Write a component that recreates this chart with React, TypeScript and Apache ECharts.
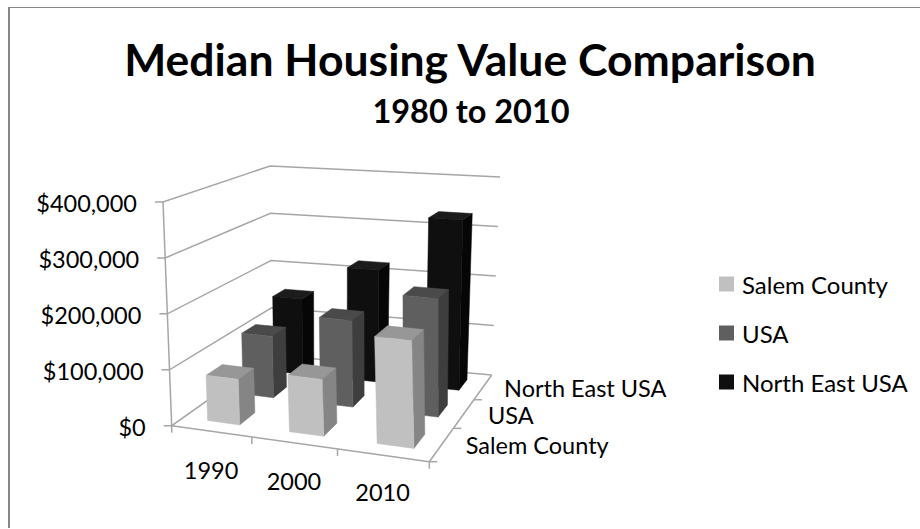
import React, { useEffect, useRef } from "react";
import * as echarts from "echarts";

const titleText = "Median Housing Value Comparison";
const subtitleText = "1980 to 2010";
const years = ["1990", "2000", "2010"];
const rows = ["Salem County", "USA", "North East USA"];
const salem = [82000, 100000, 186000];
const usa = [117000, 162000, 218000];
const northEast = [152000, 222000, 332000];
const yTicks = [0, 100000, 200000, 300000, 400000];

const FONT = "Lato, Carlito, sans-serif";
const cF = { L0: [171.7, 425.7], R0: [429.3, 461.7], L1: [163, 202], R1: [423, 224] };
const cB = { L0: [272, 355], R0: [491.7, 375], L1: [270, 166], R1: [500, 177] };

const warp = (t: number, a: number) => (a * t) / (1 + (a - 1) * t);
const mix = (a: number[], b: number[], t: number) => [a[0] + (b[0] - a[0]) * t, a[1] + (b[1] - a[1]) * t];
function project(u: number, v: number, h: number): number[] {
  const U = warp(u, 0.903);
  const V = warp(v, 1.25);
  const bottom = mix(mix(cF.L0, cF.R0, U), mix(cB.L0, cB.R0, U), V);
  const top = mix(mix(cF.L1, cF.R1, U), mix(cB.L1, cB.R1, U), V);
  return mix(bottom, top, h);
}
const heightOf = (api: any, params: any, val: number) => {
  const cs = params.coordSys;
  return (cs.y + cs.height - api.coord([0, val])[1]) / cs.height;
};
const money = (v: number) => "$" + v.toLocaleString("en-US");

function barSeries(name: string, values: number[], row: number, faces: string[], z: number) {
  return {
    type: "custom",
    name,
    z,
    coordinateSystem: "cartesian2d",
    itemStyle: { color: faces[0] },
    data: values.map((v, i) => [i, v]),
    silent: true,
    renderItem: (params: any, api: any) => {
      const cat = api.value(0);
      const h = heightOf(api, params, api.value(1));
      const u0 = (cat * 1.0175 + 0.313) / 3, u1 = (cat * 1.0175 + 0.72) / 3;
      const v0 = (row + 0.29) / 3, v1 = (row + 0.72) / 3;
      const poly = (pts: number[][], fill: string) => ({
        type: "polygon",
        shape: { points: pts },
        style: { fill, stroke: fill, lineWidth: 0.5 },
      });
      return {
        type: "group",
        children: [
          poly([project(u1, v0, 0), project(u1, v1, 0), project(u1, v1, h), project(u1, v0, h)], faces[1]),
          poly([project(u0, v0, h), project(u1, v0, h), project(u1, v1, h), project(u0, v1, h)], faces[2]),
          poly([project(u0, v0, 0), project(u1, v0, 0), project(u1, v0, h), project(u0, v0, h)], faces[0]),
        ],
      };
    },
  };
}

const LINE = { stroke: "#a6a6a6", lineWidth: 1.5, fill: "none" };

const App = () => {
  const ref = useRef<HTMLDivElement>(null);
  useEffect(() => {
    document.body.style.margin = "0";
    const chart = echarts.init(ref.current!, null, { renderer: "svg" });
    chart.setOption({
      animation: false,
      backgroundColor: "#fff",
      graphic: [
        { type: "line", z: -10, shape: { x1: 8, y1: 7.5, x2: 920, y2: 7.5 }, style: { stroke: "#868686", lineWidth: 1 } },
        { type: "line", z: -10, shape: { x1: 9, y1: 7, x2: 9, y2: 528 }, style: { stroke: "#868686", lineWidth: 2 } },
      ],
      title: [
        { text: titleText, left: 465, top: 31, textAlign: "center", textStyle: { fontFamily: FONT, fontWeight: "bold", fontSize: 44.5, color: "#000" } },
        { text: subtitleText, left: 466, top: 89, textAlign: "center", textStyle: { fontFamily: FONT, fontWeight: "bold", fontSize: 32.5, color: "#000" } },
      ],
      legend: {
        orient: "vertical",
        left: 714,
        top: 267,
        data: rows,
        icon: "rect",
        itemWidth: 15,
        itemHeight: 15,
        itemGap: 25,
        selectedMode: false,
        textStyle: { fontFamily: FONT, fontSize: 24, color: "#000", padding: [0, 0, 0, 3] },
      },
      grid: { left: 157, top: 202, width: 270, height: 224 },
      xAxis: { type: "category", data: years, show: false },
      yAxis: {
        type: "value",
        min: 0,
        max: 400000,
        interval: 100000,
        show: false,
      },
      series: [
        {
          type: "custom",
          name: "walls",
          z: 1,
          silent: true,
          coordinateSystem: "cartesian2d",
          data: yTicks.map((t) => [0, t]),
          renderItem: (params: any, api: any) => {
            const val = api.value(1);
            const h = heightOf(api, params, val);
            const a = project(0, 0, h), b = project(0, 1, h), c = project(1, 1, h);
            const tick = [a[0] - 8, a[1]];
            return {
              type: "group",
              children: [
                { type: "polyline", shape: { points: [tick, a, b, c] }, style: LINE },
                { type: "text", style: { text: money(val), x: a[0] - 26, y: a[1] + 1, fill: "#000", font: `23.5px ${FONT}`, textAlign: "right", textVerticalAlign: "middle" } },
              ],
            };
          },
        },
        {
          type: "custom",
          name: "frame",
          z: 1,
          silent: true,
          coordinateSystem: "cartesian2d",
          data: [[0, 0]],
          renderItem: () => {
            const ln = (p: number[], q: number[]) => ({ type: "line", shape: { x1: p[0], y1: p[1], x2: q[0], y2: q[1] }, style: LINE });
            const kids: any[] = [ln(project(0, 0, 0), project(0, 0, 1)), ln(project(0, 0, 0), project(1, 0, 0)), ln(project(1, 0, 0), project(1, 1, 0))];
            years.forEach((_, i) => {
              const p = project(i / 3, 0, 0);
              kids.push(ln(p, [p[0], p[1] + 7]));
            });
            const e = project(1, 0, 0);
            kids.push(ln(e, [e[0], e[1] + 7]));
            rows.forEach((_, i) => {
              const p = project(1, i / 3, 0);
              kids.push(ln(p, [p[0] + 8, p[1]]));
            });
            return { type: "group", children: kids };
          },
        },
        {
          type: "custom",
          name: "yearLabels",
          z: 6,
          silent: true,
          coordinateSystem: "cartesian2d",
          data: years.map((_, i) => [i, 0]),
          renderItem: (_p: any, api: any) => {
            const i = api.value(0);
            const p = project((i + 0.5) / 3, 0, 0);
            return {
              type: "text",
              style: { text: years[i], x: p[0], y: p[1] + 39 - i, fill: "#000", font: `23.5px ${FONT}`, textAlign: "center", textVerticalAlign: "middle" },
            };
          },
        },
        {
          type: "custom",
          name: "rowLabels",
          z: 6,
          silent: true,
          coordinateSystem: "cartesian2d",
          data: rows.map((_, i) => [i, 0]),
          renderItem: (_p: any, api: any) => {
            const i = api.value(0);
            const p = project(1, (i + 0.5) / 3, 0);
            return {
              type: "text",
              style: { text: rows[i], x: p[0] + 24 - (i === 2 ? 3 : 0), y: p[1] + 1, fill: "#000", font: `23.5px ${FONT}`, textAlign: "left", textVerticalAlign: "middle" },
            };
          },
        },
        barSeries(rows[2], northEast, 2, ["#0f0f0f", "#060606", "#1c1c1c"], 2),
        barSeries(rows[1], usa, 1, ["#5f5f5f", "#3e3e3e", "#4a4a4a"], 3),
        barSeries(rows[0], salem, 0, ["#c0c0c0", "#858585", "#979797"], 4),
      ],
    });
    return () => chart.dispose();
  }, []);
  return <div ref={ref} style={{ width: 920, height: 529 }} />;
};

export default App;
